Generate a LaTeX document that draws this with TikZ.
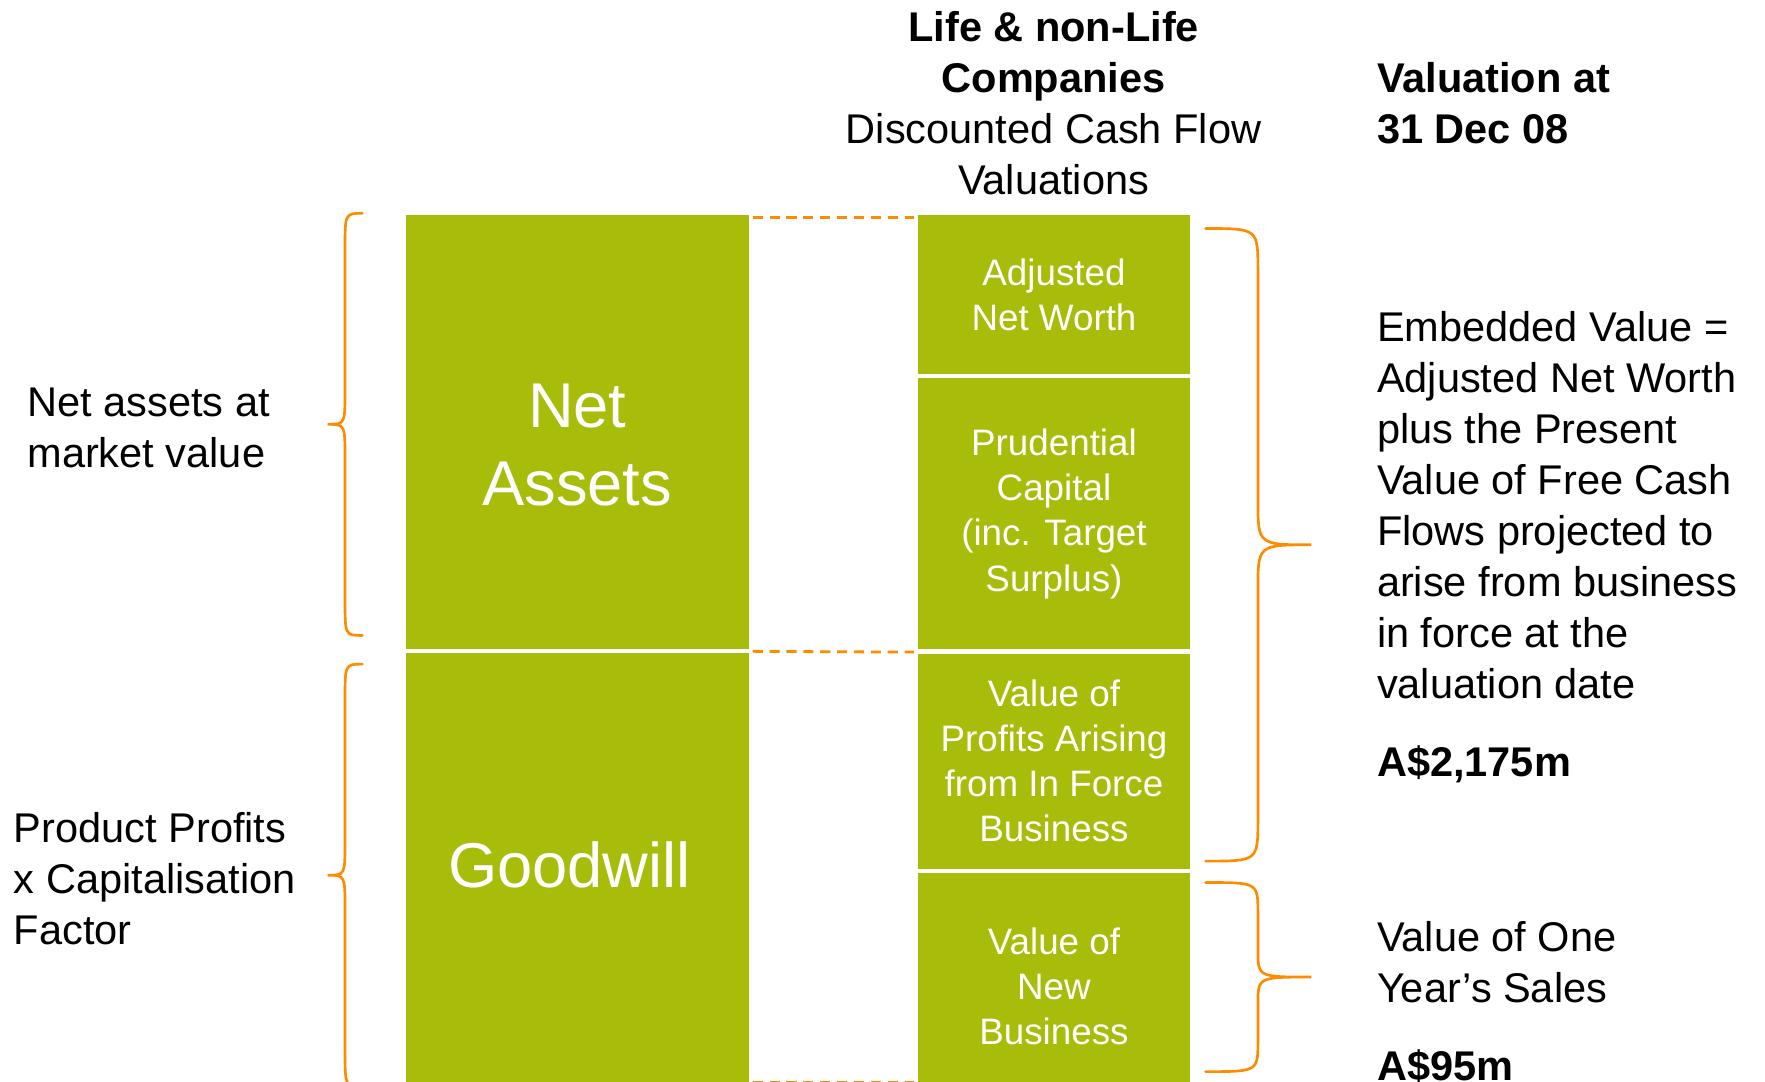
\documentclass[tikz,border=0pt]{standalone}
\usepackage{fontspec}
\setmainfont{Liberation Sans}
\usetikzlibrary{positioning}

\definecolor{leaf}{RGB}{168,188,10}
\definecolor{amber}{RGB}{255,140,0}

\tikzset{
  block/.style={fill=leaf,draw=none,inner sep=0pt,text=white,align=center,
    minimum width=4.84cm,font=\fontsize{18.6}{22.8}\selectfont},
  bigblock/.style={block,minimum width=6.10cm,font=\fontsize{32}{39.3}\selectfont},
  bigtext/.style={inner sep=0pt,text=white,align=center,font=\fontsize{32}{39.3}\selectfont},
  plain/.style={inner sep=0pt,align=left,anchor=base west,font=\fontsize{21}{25.8}\selectfont},
  link/.style={amber,line width=1.4pt,dash pattern=on 0.18cm off 0.12cm,
    shorten <=0.06cm,shorten >=0.06cm},
  curly/.style={amber,line width=1.35pt,line cap=round},
}

% ends x, spine x, tip x, top y, bottom y, end radius, tip radius
\newcommand{\curlybrace}[7]{%
  \draw[curly] (#1,#4) .. controls (#2,#4) .. (#2,#4+#6)
    -- (#2,{(#4+#5)/2-#7}) .. controls (#2,{(#4+#5)/2}) .. (#3,{(#4+#5)/2})
    .. controls (#2,{(#4+#5)/2}) .. (#2,{(#4+#5)/2+#7})
    -- (#2,#5-#6) .. controls (#2,#5) .. (#1,#5);}

\begin{document}
\begin{tikzpicture}[x=0.02cm,y=-0.02cm]
\useasboundingbox (0,0) rectangle (1568,961);
%% left column
\node (netassets) at (360,191) [bigblock,anchor=north west,minimum height=7.70cm] {};
\node (goodwill) [bigblock,below=0.06cm of netassets,minimum height=7.64cm] {};
\node (natext) at ([yshift=-0.23cm]netassets.center) [bigtext] {Net\\Assets};
\node (gwtext) at ([xshift=-0.14cm,yshift=0.06cm]goodwill.center) [bigtext] {Goodwill};
%% right column
\node (anw) at (815,191) [block,anchor=north west,minimum height=2.82cm] {Adjusted\\Net Worth};
\node (prudential) [block,below=0.06cm of anw,minimum height=4.82cm] {Prudential\\Capital\\(inc. Target\\Surplus)};
\node (vif) [block,below=0.06cm of prudential,minimum height=3.82cm] {Value of\\Profits Arising\\from In Force\\Business};
\node (vnb) [block,below=0.06cm of vif,minimum height=4.04cm] {Value of\\New\\Business};
\coordinate (gwend) at (goodwill.south east -| vnb.west);
%% dashed links
\draw[link] ([yshift=-0.05cm]netassets.north east) -- ([yshift=-0.05cm]anw.north west);
\draw[link] ([yshift=-0.04cm]netassets.south east) -- ([yshift=-0.04cm]prudential.south west);
\draw[link] ([yshift=0.02cm]goodwill.south east) -- ([yshift=0.02cm]gwend);
%% braces
\curlybrace{322}{306.5}{291}{189.5}{564.5}{32}{30}
\curlybrace{322}{306.5}{291}{590}{965}{32}{30}
\curlybrace{1071}{1117.5}{1165}{203}{765}{37}{40}
\curlybrace{1071}{1117.5}{1165}{784}{952}{27}{24}
%% headings and notes (placed by the baseline of their last line)
\node (method) at (936,172.6) [plain,anchor=base,align=center] {\textbf{Life \& non-Life}\\\textbf{Companies}\\Discounted Cash Flow\\Valuations};
\node (valdate) at (1223,127.8) [plain] {\textbf{Valuation at}\\\textbf{31 Dec 08}};
\node (mktvalue) at (24,415.3) [plain] {Net assets at\\market value};
\node (capfactor) at (12,839.2) [plain] {Product Profits\\x Capitalisation\\Factor};
\node (evnote) at (1223,620.6) [plain] {Embedded Value =\\Adjusted Net Worth\\plus the Present\\Value of Free Cash\\Flows projected to\\arise from business\\in force at the\\valuation date};
\node (evtotal) at (1223,690) [plain] {\textbf{A\$2,175m}};
\node (salesnote) at (1223,890.7) [plain] {Value of One\\Year's Sales};
\node (salestotal) at (1223,959.5) [plain] {\textbf{A\$95m}};
\end{tikzpicture}
\end{document}
